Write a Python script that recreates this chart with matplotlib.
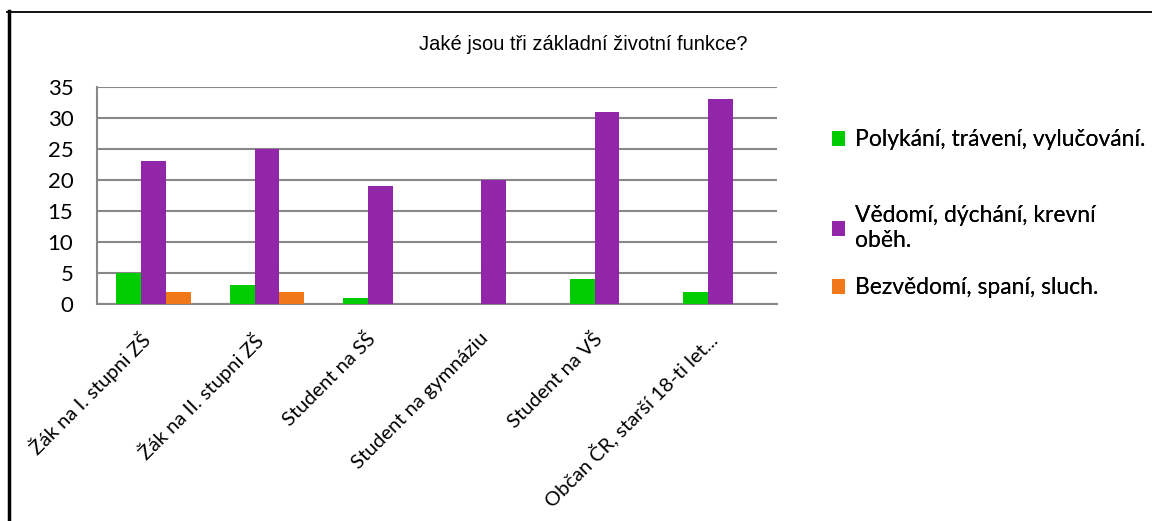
import matplotlib.pyplot as plt
from matplotlib.lines import Line2D
from matplotlib.transforms import ScaledTranslation
import numpy as np

plt.rcParams['font.family'] = ['Lato', 'DejaVu Sans']

categories = ['Žák na I. stupni ZŠ', 'Žák na II. stupni ZŠ', 'Student na SŠ',
              'Student na gymnáziu', 'Student na VŠ', 'Občan ČR, starší 18-ti let...']
series_names = ['Polykání, trávení, vylučování.', 'Vědomí, dýchání, krevní\noběh.',
                'Bezvědomí, spaní, sluch.']
polykani = [5, 3, 1, 0, 4, 2]
vedomi = [23, 25, 19, 20, 31, 33]
bezvedomi = [2, 2, 0, 0, 0, 0]
colors = ['#00cc00', '#9126a8', '#f07818']

fig = plt.figure(figsize=(11.52, 5.21), dpi=100)
ax = fig.add_axes([97 / 1152, 1 - 304 / 521, 680 / 1152, 217 / 521])

x = np.arange(len(categories))
w = 0.22
bars = []
for i, (vals, name, c) in enumerate(zip([polykani, vedomi, bezvedomi], series_names, colors)):
    bars.append(ax.bar(x + (i - 1) * w, vals, w, color=c, label=name, zorder=3))

ax.set_xlim(-0.5, len(categories) - 0.5)
ax.set_ylim(0, 35)
ax.set_yticks(range(0, 36, 5))
ax.yaxis.grid(True, color='#888888', linewidth=1.5, zorder=0)
ax.tick_params(axis='y', length=0, labelsize=16, pad=17)
ax.tick_params(axis='x', length=0, labelsize=14.5, pad=6)
ax.set_xticks(x)
ax.set_xticklabels(categories, rotation=45, ha='right', rotation_mode='anchor')
off = ScaledTranslation(-14 / 100, -17 / 100, fig.dpi_scale_trans)
for lbl in ax.get_xticklabels():
    lbl.set_transform(lbl.get_transform() + off)
for s in ['top', 'right']:
    ax.spines[s].set_visible(False)
for s in ['left', 'bottom']:
    ax.spines[s].set_color('#888888')
    ax.spines[s].set_linewidth(1.5)

fig.text(0.506, 1 - 45 / 521, 'Jaké jsou tři základní životní funkce?', ha='center', va='center',
         fontsize=14.5, family=['Liberation Sans', 'DejaVu Sans'])

# legend entries placed one by one (uneven spacing as in the original)
leg_y = [140, 228, 288]
for b, name, yy in zip(bars, series_names, leg_y):
    lg = fig.legend(handles=[b], labels=[name], loc='center left',
                    bbox_to_anchor=(811 / 1152, 1 - yy / 521), frameon=False,
                    fontsize=16.5, handlelength=0.6, handleheight=0.6, handletextpad=0.4)
    fig.add_artist(lg)

# outer frame
fig.add_artist(Line2D([8.5 / 1152, 8.5 / 1152], [0, 1 - 11 / 521], transform=fig.transFigure,
                      color='black', linewidth=2.5))
fig.add_artist(Line2D([7 / 1152, 1], [1 - 11.5 / 521, 1 - 11.5 / 521], transform=fig.transFigure,
                      color='black', linewidth=1.3))

fig.savefig('out.png', dpi=100)
